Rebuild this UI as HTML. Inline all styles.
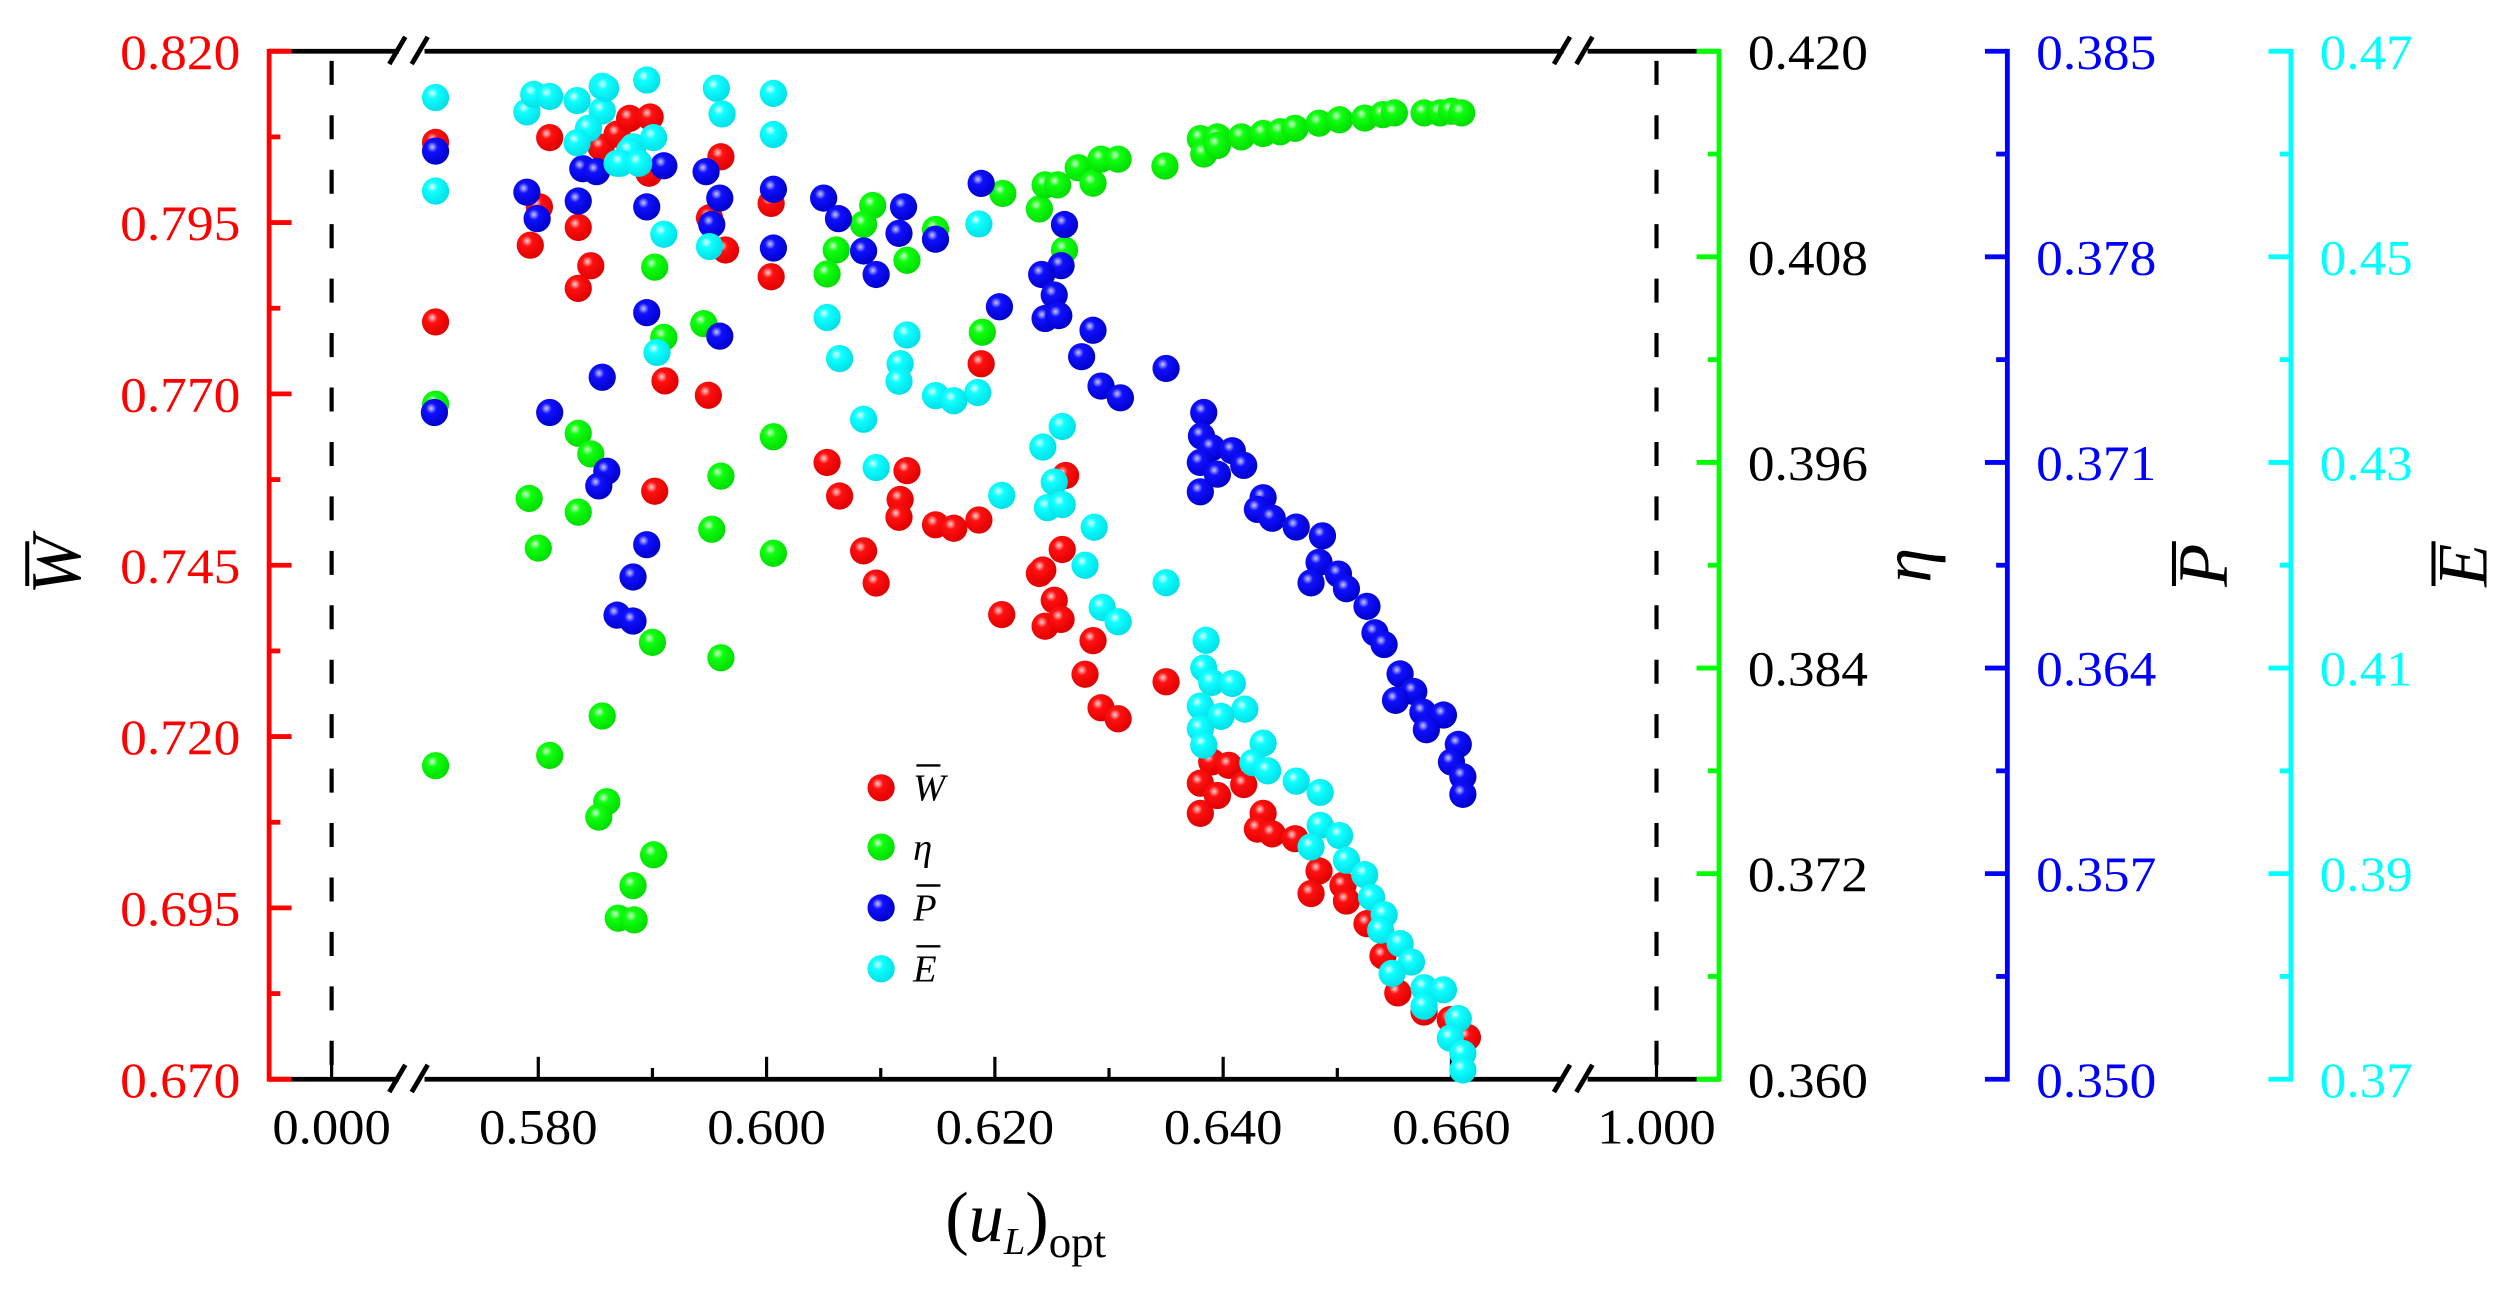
<!DOCTYPE html>
<html><head><meta charset="utf-8"><style>
html,body{margin:0;padding:0;background:#fff;}
svg{display:block;}
svg text{font-family:"Liberation Serif","Times New Roman",Times,serif;}
</style></head><body>
<svg id="chart" xmlns="http://www.w3.org/2000/svg" width="2512" height="1289" viewBox="0 0 1568 805" preserveAspectRatio="none" font-family="Liberation Serif, Times New Roman, serif">
<defs>
<radialGradient id="gr" cx="0.38" cy="0.35" r="0.65"><stop offset="0" stop-color="#ffd0d0"/><stop offset="0.3" stop-color="#ff1010"/><stop offset="1" stop-color="#e00000"/></radialGradient>
<radialGradient id="gg" cx="0.38" cy="0.35" r="0.65"><stop offset="0" stop-color="#d0ffd0"/><stop offset="0.3" stop-color="#10ff10"/><stop offset="1" stop-color="#00dd00"/></radialGradient>
<radialGradient id="gb" cx="0.38" cy="0.35" r="0.65"><stop offset="0" stop-color="#c8c8ff"/><stop offset="0.3" stop-color="#1010ff"/><stop offset="1" stop-color="#0000cc"/></radialGradient>
<radialGradient id="gc" cx="0.38" cy="0.35" r="0.65"><stop offset="0" stop-color="#e0ffff"/><stop offset="0.3" stop-color="#10ffff"/><stop offset="1" stop-color="#00e0e8"/></radialGradient>
</defs>
<g id="frame"></g>
<g id="marks"></g>
<g id="legend"></g>
</svg>
<script>
const xTicks = [0.580, 0.600, 0.620, 0.640, 0.660];
const xTickLabels = ["0.580","0.600","0.620","0.640","0.660"];
const xBreakTicks = [0.000, 1.000];
const xBreakLabels = ["0.000","1.000"];
const wTicks = [0.820,0.795,0.770,0.745,0.720,0.695,0.670];
const etaTicks = [0.420,0.408,0.396,0.384,0.372,0.360];
const pTicks = [0.385,0.378,0.371,0.364,0.357,0.350];
const eTicks = [0.47,0.45,0.43,0.41,0.39,0.37];
const eTickLabels = ["0.47","0.45","0.43","0.41","0.39","0.37"];

const wPoints = [[0.5710,0.8067],[0.5710,0.7805],[0.5810,0.8074],[0.5801,0.7973],[0.5793,0.7917],[0.5835,0.7943],[0.5846,0.7887],[0.5835,0.7854],[0.5855,0.8060],[0.5869,0.8079],[0.5880,0.8102],[0.5898,0.8104],[0.5897,0.8022],[0.5960,0.8046],[0.5950,0.7957],[0.5964,0.7910],[0.6004,0.7978],[0.6004,0.7871],[0.5911,0.7719],[0.5949,0.7698],[0.5902,0.7558],[0.6053,0.7600],[0.6064,0.7551],[0.6123,0.7588],[0.6117,0.7546],[0.6116,0.7520],[0.6085,0.7471],[0.6096,0.7424],[0.6148,0.7509],[0.6188,0.7744],[0.6239,0.7438],[0.6206,0.7378],[0.6252,0.7399],[0.6244,0.7361],[0.6258,0.7371],[0.6286,0.7340],[0.6279,0.7291],[0.6293,0.7242],[0.6308,0.7226],[0.6350,0.7280],[0.6262,0.7581],[0.6186,0.7516],[0.6164,0.7504],[0.6259,0.7473],[0.6242,0.7443],[0.6390,0.7163],[0.6405,0.7158],[0.6380,0.7132],[0.6418,0.7130],[0.6395,0.7114],[0.6380,0.7088],[0.6435,0.7088],[0.6430,0.7065],[0.6443,0.7058],[0.6463,0.7051],[0.6484,0.7004],[0.6477,0.6971],[0.6505,0.6983],[0.6508,0.6960],[0.6526,0.6927],[0.6540,0.6880],[0.6553,0.6826],[0.6576,0.6798],[0.6599,0.6787],[0.6614,0.6761]];

const etaPoints = [[0.5710,0.3994],[0.5710,0.3783],[0.5835,0.3977],[0.5846,0.3965],[0.5792,0.3939],[0.5835,0.3931],[0.5800,0.3910],[0.5900,0.3855],[0.5960,0.3846],[0.5856,0.3812],[0.5810,0.3789],[0.5860,0.3762],[0.5853,0.3753],[0.5901,0.3731],[0.5883,0.3713],[0.5870,0.3694],[0.5884,0.3693],[0.5902,0.4074],[0.6093,0.4110],[0.6085,0.4099],[0.6061,0.4084],[0.6053,0.4070],[0.6123,0.4078],[0.6148,0.4096],[0.5945,0.4041],[0.5910,0.4033],[0.6006,0.3975],[0.5960,0.3952],[0.5952,0.3921],[0.6006,0.3907],[0.6207,0.4117],[0.6189,0.4036],[0.6239,0.4108],[0.6244,0.4122],[0.6255,0.4122],[0.6273,0.4132],[0.6286,0.4123],[0.6293,0.4137],[0.6308,0.4137],[0.6261,0.4084],[0.6349,0.4133],[0.6380,0.4149],[0.6383,0.4140],[0.6395,0.4150],[0.6395,0.4145],[0.6416,0.4150],[0.6435,0.4152],[0.6450,0.4153],[0.6463,0.4155],[0.6484,0.4158],[0.6502,0.4160],[0.6524,0.4161],[0.6540,0.4163],[0.6550,0.4164],[0.6576,0.4164],[0.6590,0.4164],[0.6600,0.4165],[0.6609,0.4164]];

const pPoints = [[0.5710,0.3816],[0.5709,0.3727],[0.5790,0.3802],[0.5799,0.3793],[0.5835,0.3799],[0.5839,0.3810],[0.5851,0.3809],[0.5895,0.3761],[0.5895,0.3797],[0.5856,0.3739],[0.5810,0.3727],[0.5860,0.3707],[0.5853,0.3702],[0.5883,0.3671],[0.5869,0.3658],[0.5883,0.3656],[0.5895,0.3682],[0.5910,0.3811],[0.5947,0.3809],[0.5959,0.3800],[0.5952,0.3791],[0.6006,0.3803],[0.6006,0.3783],[0.6050,0.3800],[0.6063,0.3793],[0.6085,0.3782],[0.6096,0.3774],[0.6120,0.3797],[0.6116,0.3788],[0.6148,0.3786],[0.5959,0.3753],[0.6188,0.3805],[0.6261,0.3791],[0.6258,0.3777],[0.6241,0.3774],[0.6252,0.3767],[0.6244,0.3759],[0.6256,0.3760],[0.6286,0.3755],[0.6276,0.3746],[0.6204,0.3763],[0.6293,0.3736],[0.6310,0.3732],[0.6350,0.3742],[0.6383,0.3727],[0.6381,0.3719],[0.6390,0.3715],[0.6408,0.3714],[0.6380,0.3710],[0.6418,0.3709],[0.6395,0.3706],[0.6380,0.3700],[0.6435,0.3698],[0.6430,0.3694],[0.6443,0.3691],[0.6464,0.3688],[0.6487,0.3685],[0.6484,0.3676],[0.6501,0.3672],[0.6477,0.3669],[0.6508,0.3667],[0.6526,0.3661],[0.6533,0.3652],[0.6541,0.3648],[0.6555,0.3638],[0.6567,0.3632],[0.6551,0.3629],[0.6575,0.3625],[0.6593,0.3624],[0.6578,0.3619],[0.6606,0.3614],[0.6600,0.3608],[0.6610,0.3603],[0.6610,0.3597]];

const ePoints = [[0.5710,0.4655],[0.5710,0.4564],[0.5790,0.4641],[0.5796,0.4658],[0.5810,0.4656],[0.5834,0.4652],[0.5856,0.4666],[0.5856,0.4642],[0.5844,0.4625],[0.5834,0.4611],[0.5869,0.4591],[0.5883,0.4607],[0.5895,0.4672],[0.5859,0.4664],[0.5956,0.4664],[0.5961,0.4639],[0.6006,0.4659],[0.6006,0.4619],[0.5901,0.4616],[0.5880,0.4603],[0.5872,0.4591],[0.5888,0.4591],[0.5910,0.4522],[0.5950,0.4510],[0.5904,0.4407],[0.6053,0.4441],[0.6064,0.4401],[0.6123,0.4424],[0.6117,0.4396],[0.6116,0.4379],[0.6085,0.4342],[0.6096,0.4295],[0.6148,0.4365],[0.6186,0.4532],[0.6185,0.4368],[0.6164,0.4360],[0.6259,0.4335],[0.6242,0.4315],[0.6252,0.4281],[0.6206,0.4268],[0.6246,0.4256],[0.6259,0.4259],[0.6287,0.4237],[0.6279,0.4200],[0.6350,0.4183],[0.6294,0.4159],[0.6308,0.4145],[0.6385,0.4127],[0.6383,0.4100],[0.6390,0.4086],[0.6408,0.4085],[0.6380,0.4063],[0.6419,0.4060],[0.6398,0.4053],[0.6380,0.4041],[0.6383,0.4025],[0.6435,0.4027],[0.6426,0.4008],[0.6439,0.4000],[0.6464,0.3990],[0.6485,0.3979],[0.6485,0.3947],[0.6502,0.3937],[0.6477,0.3926],[0.6508,0.3913],[0.6524,0.3899],[0.6530,0.3877],[0.6541,0.3860],[0.6538,0.3845],[0.6555,0.3832],[0.6565,0.3814],[0.6548,0.3803],[0.6576,0.3789],[0.6593,0.3787],[0.6576,0.3771],[0.6606,0.3759],[0.6599,0.3740],[0.6610,0.3725],[0.6610,0.3709]];

const NS = "http://www.w3.org/2000/svg";
const TOP = 32, BOT = 674, LEFT = 168, RIGHT = 1073;
const AX_P = 1253, AX_E = 1430;
function xPos(u){ if(u < 0.3) return 207 + u*100; if(u > 0.8) return 1034 + (u-1)*100; return 336 + (u-0.58)*7125; }
function yLin(v, hi, lo){ return TOP + (hi - v)/(hi - lo)*(BOT - TOP); }
const yW = v => yLin(v, 0.820, 0.670);
const yEta = v => yLin(v, 0.420, 0.360);
const yP = v => yLin(v, 0.385, 0.350);
const yE = v => yLin(v, 0.47, 0.37);

function mk(tag, attrs, parent){ const e = document.createElementNS(NS, tag); for (const k in attrs) e.setAttribute(k, attrs[k]); parent.appendChild(e); return e; }
const frame = document.getElementById('frame');
const marks = document.getElementById('marks');
const legend = document.getElementById('legend');

for (const u of xBreakTicks) {
  const l = mk('line', {x1:xPos(u), x2:xPos(u), y1:TOP, y2:BOT, stroke:'#000', 'stroke-width':2.6, 'stroke-dasharray':'15 19', 'stroke-dashoffset':'-6'}, frame);
  
  
}

function hAxis(y, name){
  const g = mk('g', {}, frame);
  
  
  mk('line', {x1:LEFT, x2:249, y1:y, y2:y, stroke:'#000', 'stroke-width':3}, g);
  mk('line', {x1:265, x2:976, y1:y, y2:y, stroke:'#000', 'stroke-width':3}, g);
  mk('line', {x1:991, x2:RIGHT, y1:y, y2:y, stroke:'#000', 'stroke-width':3}, g);
  mk('line', {x1:LEFT, x2:180, y1:y, y2:y, stroke:'#f00', 'stroke-width':3}, g);
  mk('line', {x1:1062, x2:RIGHT, y1:y, y2:y, stroke:'#0f0', 'stroke-width':3}, g);
  for (const bx of [243, 257, 970, 984]) mk('line', {x1:bx, x2:bx+10, y1:y+8, y2:y-9, stroke:'#000', 'stroke-width':3}, g);
}
hAxis(TOP, 'top-axis');
hAxis(BOT, 'x-axis');

for (let i=0;i<xTicks.length;i++){
  const x = xPos(xTicks[i]);
  mk('line', {x1:x, x2:x, y1:BOT, y2:BOT-14, stroke:'#000', 'stroke-width':2}, frame);
  const t = mk('text', {x:x, y:BOT+40, 'text-anchor':'middle', 'font-size':31, textLength:74, lengthAdjust:'spacingAndGlyphs', fill:'#000'}, frame);
  t.textContent = xTickLabels[i];
  
  
}
for (let i=0;i<xTicks.length-1;i++){
  const x = xPos((xTicks[i]+xTicks[i+1])/2);
  mk('line', {x1:x, x2:x, y1:BOT, y2:BOT-7, stroke:'#000', 'stroke-width':2}, frame);
}
for (let i=0;i<xBreakTicks.length;i++){
  const x = xPos(xBreakTicks[i]);
  mk('line', {x1:x, x2:x, y1:BOT, y2:BOT-14, stroke:'#000', 'stroke-width':2}, frame);
  const t = mk('text', {x:x, y:BOT+40, 'text-anchor':'middle', 'font-size':31, textLength:74, lengthAdjust:'spacingAndGlyphs', fill:'#000'}, frame);
  t.textContent = xBreakLabels[i];
  
  
}
const xt = mk('text', {x:590, y:775, 'font-size':44, fill:'#000'}, frame);


xt.innerHTML = '(<tspan font-style="italic">u</tspan><tspan font-style="italic" font-size="24" dy="8">L</tspan><tspan dy="-8">)</tspan><tspan font-size="28" dy="10">opt</tspan>';

function vAxis(x, color, ticks, labels, fmt, yf, labelColor, side, name){
  const g = mk('g', {}, frame);
  
  
  mk('line', {x1:x, x2:x, y1:TOP-1.5, y2:BOT+1.5, stroke:color, 'stroke-width':3}, g);
  for (let i=0;i<ticks.length;i++){
    const y = yf(ticks[i]);
    mk('line', {x1:x, x2:x+side*14, y1:y, y2:y, stroke:color, 'stroke-width':3}, g);
    if (i < ticks.length-1){
      const ym = yf((ticks[i]+ticks[i+1])/2);
      mk('line', {x1:x, x2:x+side*7, y1:ym, y2:ym, stroke:color, 'stroke-width':3}, g);
    }
    const lab = labels ? labels[i] : ticks[i].toFixed(fmt);
    const t = mk('text', side>0 ? {x:x-18, y:y+11, 'text-anchor':'end', 'font-size':31, textLength:75, lengthAdjust:'spacingAndGlyphs', fill:labelColor}
                                : {x:x+18, y:y+11, 'text-anchor':'start', 'font-size':31, textLength: lab.length>4?75:58, lengthAdjust:'spacingAndGlyphs', fill:labelColor}, g);
    t.textContent = lab;
    
    
  }
}
vAxis(LEFT, '#f00', wTicks, null, 3, yW, '#f00', 1, 'w-axis');
vAxis(RIGHT, '#0f0', etaTicks, null, 3, yEta, '#000', -1, 'eta-axis');
vAxis(AX_P, '#00f', pTicks, null, 3, yP, '#00f', -1, 'p-axis');
vAxis(AX_E, '#0ff', eTicks, eTickLabels, 2, yE, '#0ff', -1, 'e-axis');

function vTitle(x, y, letter, bar, name){
  const g = mk('g', {transform:'translate('+x+','+y+') rotate(-90)'}, frame);
  
  
  const t = mk('text', {x:0, y:0, 'text-anchor':'middle', 'font-size':44, 'font-style':'italic', fill:'#000'}, g);
  t.textContent = letter;
  if (bar) mk('line', {x1:-13, x2:15, y1:-33, y2:-33, stroke:'#000', 'stroke-width':2.5}, g);
}
vTitle(50, 353, 'W', true, 'w-axis-title');
vTitle(1205, 353, 'η', false, 'eta-axis-title');
vTitle(1390, 353, 'P', true, 'p-axis-title');
vTitle(1552, 353, 'E', true, 'e-axis-title');

const R = 8.5;
function series(pts, yf, grad, name){
  const g = mk('g', {}, marks);
  
  
  for (const p of pts){
    const c = mk('circle', {cx:xPos(p[0]), cy:yf(p[1]), r:R, fill:'url(#'+grad+')'}, g);
    
    
  }
}
series(wPoints, yW, 'gr', 'w-series');
series(etaPoints, yEta, 'gg', 'eta-series');
series(pPoints, yP, 'gb', 'p-series');
series(ePoints, yE, 'gc', 'e-series');

const legItems = [['gr','W',true,'legend-entry-w'],['gg','η',false,'legend-entry-eta'],['gb','P',true,'legend-entry-p'],['gc','E',true,'legend-entry-e']];
const legY = [492, 529, 567, 605];
for (let i=0;i<legItems.length;i++){
  const it = legItems[i];
  const g = mk('g', {}, legend);
  
  
  mk('circle', {cx:550, cy:legY[i], r:R, fill:'url(#'+it[0]+')'}, g);
  const t = mk('text', {x:570, y:legY[i]+8, 'font-size':24, 'font-style':'italic', fill:'#000'}, g);
  t.textContent = it[1];
  if (it[2]) mk('line', {x1:572, x2:587, y1:legY[i]-14, y2:legY[i]-14, stroke:'#000', 'stroke-width':1.5}, g);
}
</script>
</body></html>
